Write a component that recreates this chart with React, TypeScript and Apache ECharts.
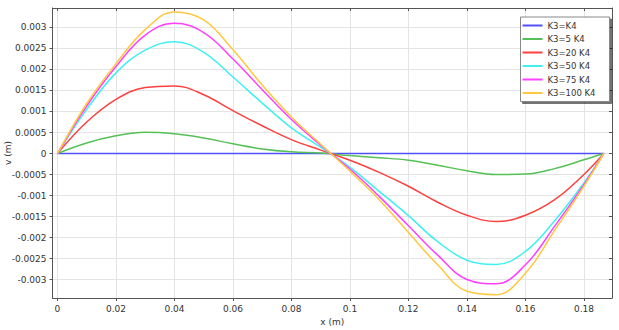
import React, { useEffect, useRef } from "react";
import * as echarts from "echarts";

const xValues = [0, 0.01, 0.02, 0.03, 0.04, 0.05, 0.06, 0.07, 0.08, 0.09,
  0.1, 0.11, 0.12, 0.13, 0.14, 0.15, 0.16, 0.17, 0.18, 0.1868];

const seriesNames = ["K3=K4", "K3=5 K4", "K3=20 K4", "K3=50 K4", "K3=75 K4", "K3=100 K4"];

const vK1 = [0, 0, 0, 0, 0, 0, 0, 0, 0, 0,
  0, 0, 0, 0, 0, 0, 0, 0, 0, 0];
const vK5 = [0, 0.00025, 0.00042, 0.000505, 0.00047, 0.00037, 0.00023, 0.00011, 0.00004, 0.00001,
  -0.00005, -0.0001, -0.00016, -0.00028, -0.00041, -0.0005, -0.00049, -0.00036, -0.00015, 0];
const vK20 = [0, 0.00075, 0.00129, 0.00157, 0.00161, 0.0014, 0.00102, 0.00066, 0.00033, 0.00008,
  -0.00016, -0.00045, -0.00078, -0.00116, -0.00147, -0.00162, -0.00147, -0.0011, -0.0005, 0];
const vK50 = [0, 0.00105, 0.00192, 0.00246, 0.00266, 0.00241, 0.00182, 0.0012, 0.00061, 0.00015,
  -0.00033, -0.0009, -0.00148, -0.0021, -0.00254, -0.00264, -0.00233, -0.0016, -0.0007, 0];
const vK75 = [0, 0.00113, 0.00207, 0.00282, 0.0031, 0.00288, 0.00225, 0.00152, 0.00081, 0.0002,
  -0.00037, -0.00102, -0.00172, -0.00242, -0.003, -0.0031, -0.00265, -0.00173, -0.00074, 0];
const vK100 = [0, 0.00119, 0.00214, 0.00295, 0.00337, 0.00318, 0.00247, 0.00163, 0.00087, 0.00022,
  -0.00042, -0.0011, -0.00188, -0.00265, -0.00328, -0.00336, -0.00285, -0.00183, -0.00078, 0];

const allValues = [vK1, vK5, vK20, vK50, vK75, vK100];
const colors = ["#5050ff", "#55c055", "#ff4040", "#40f0f0", "#ff40ff", "#ffc840"];

const FONT = "DejaVu Sans";
const TXT = "#333333";
const AXIS = "#555555";

export default function App() {
  const ref = useRef<HTMLDivElement>(null);
  useEffect(() => {
    if (!ref.current) return;
    const chart = echarts.init(ref.current, undefined, { renderer: "svg" });
    const xMin = -0.0017, xMax = 0.1896, yMin = -0.00344, yMax = 0.003464;
    const option: any = {
      animation: false,
      backgroundColor: "#ffffff",
      textStyle: { fontFamily: FONT },
      grid: { left: 52.5, right: 7, top: 8, bottom: 32, containLabel: false, outerBoundsMode: "none" },
      graphic: [
        {
          type: "text",
          x: 8,
          y: 153,
          rotation: Math.PI / 2,
          style: { text: "v (m)", fontFamily: FONT, fontSize: 9, fill: TXT, align: "center", verticalAlign: "middle" },
        },
      ],
      legend: {
        orient: "vertical",
        left: 520.5,
        top: 17,
        padding: [4, 14, 4, 2],
        itemGap: 4.5,
        itemWidth: 20,
        itemHeight: 2,
        icon: "rect",
        backgroundColor: "#ffffff",
        borderColor: "#888888",
        borderWidth: 1,
        shadowColor: "rgba(0,0,0,0.55)",
        shadowBlur: 1,
        shadowOffsetX: 2,
        shadowOffsetY: 2,
        textStyle: { fontFamily: FONT, fontSize: 8.5, color: TXT },
        data: seriesNames,
      },
      xAxis: [
        {
          type: "value", min: xMin, max: xMax, splitNumber: 10, minInterval: 0.02, maxInterval: 0.02,
          name: "x (m)", nameLocation: "middle", nameGap: 17,
          nameTextStyle: { fontFamily: FONT, fontSize: 9, color: TXT },
          axisLine: { show: true, onZero: false, lineStyle: { color: AXIS, width: 1 } },
          axisTick: { show: true, inside: false, length: 3, lineStyle: { color: AXIS } },
          axisLabel: { fontFamily: FONT, fontSize: 9, color: TXT, margin: 6, showMinLabel: false, showMaxLabel: false },
          splitLine: { show: true, lineStyle: { color: "#e4e4e4", width: 1 } },
        },
        {
          type: "value", position: "top", min: xMin, max: xMax, splitNumber: 10, minInterval: 0.02, maxInterval: 0.02,
          axisLine: { show: true, onZero: false, lineStyle: { color: AXIS, width: 1 } },
          axisTick: { show: true, inside: true, length: 3, lineStyle: { color: AXIS } },
          axisLabel: { show: false },
          splitLine: { show: false },
        },
      ],
      yAxis: [
        {
          type: "value", min: yMin, max: yMax, splitNumber: 14, minInterval: 0.0005, maxInterval: 0.0005,
          axisLine: { show: true, onZero: false, lineStyle: { color: AXIS, width: 1 } },
          axisTick: { show: true, inside: false, length: 3, lineStyle: { color: AXIS } },
          axisLabel: { fontFamily: FONT, fontSize: 9, color: TXT, margin: 6, showMinLabel: false, showMaxLabel: false },
          splitLine: { show: true, lineStyle: { color: "#e4e4e4", width: 1 } },
        },
        {
          type: "value", position: "right", min: yMin, max: yMax, splitNumber: 14, minInterval: 0.0005, maxInterval: 0.0005,
          axisLine: { show: true, onZero: false, lineStyle: { color: AXIS, width: 1 } },
          axisTick: { show: true, inside: true, length: 3, lineStyle: { color: AXIS } },
          axisLabel: { show: false },
          splitLine: { show: false },
        },
      ],
      series: seriesNames.map((name, i) => ({
        name,
        type: "line",
        xAxisIndex: 0,
        yAxisIndex: 0,
        data: xValues.map((x, j) => [x, allValues[i][j]]),
        showSymbol: false,
        symbol: "none",
        smooth: 0.4,
        lineStyle: { color: colors[i], width: 1.5 },
        itemStyle: { color: colors[i] },
      })),
    };
    chart.setOption(option);
    return () => chart.dispose();
  }, []);
  return <div ref={ref} style={{ position: "fixed", left: 0, top: 0, width: 619, height: 330 }} />;
}
